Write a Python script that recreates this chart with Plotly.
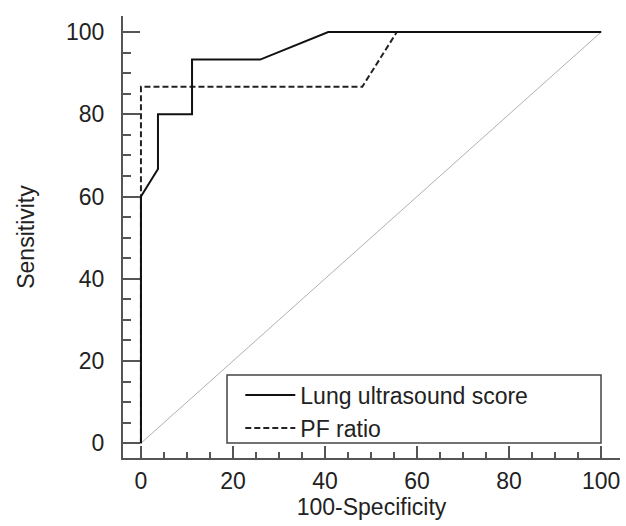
import plotly.graph_objects as go

# ROC curve data (100-Specificity, Sensitivity)
lus_x = [0, 0, 3.7, 3.7, 11.1, 11.1, 25.9, 40.7, 100]
lus_y = [0, 60, 66.7, 80, 80, 93.3, 93.3, 100, 100]
pf_x = [0, 0, 48.1, 55.6, 100]
pf_y = [0, 86.7, 86.7, 100, 100]
diag_x = [0, 100]
diag_y = [0, 100]
tick_vals = [0, 20, 40, 60, 80, 100]
tick_text = ["0", "20", "40", "60", "80", "100"]

FONT = "Liberation Sans, Arial, sans-serif"
AX = "#555555"
FS = 23

fig = go.Figure()
fig.add_trace(go.Scatter(x=diag_x, y=diag_y, mode="lines",
                         line=dict(color="#b0b0b0", width=1), showlegend=False,
                         hoverinfo="skip"))
fig.add_trace(go.Scatter(x=pf_x, y=pf_y, mode="lines", name="PF ratio", legendrank=2,
                         line=dict(color="#222222", width=2, dash="6px,3px")))
fig.add_trace(go.Scatter(x=lus_x, y=lus_y, mode="lines", name="Lung ultrasound score",
                         legendrank=1, line=dict(color="#111111", width=2)))

axis_common = dict(
    showgrid=False, zeroline=False, showline=True, linecolor=AX, linewidth=2,
    ticks="inside", tickcolor=AX, tickwidth=1.5,
    tickvals=tick_vals, ticktext=tick_text,
    tickfont=dict(family=FONT, size=FS, color="#222222"),
    mirror=False,
)

# legend box (paper coordinates of the plot area)
fig.add_shape(type="rect", xref="paper", yref="paper",
              x0=0.2093, x1=0.9618, y0=0.0339, y1=0.1878,
              line=dict(color="#444444", width=1.5), fillcolor="white", layer="below")

fig.update_layout(
    width=626, height=526,
    margin=dict(l=123, r=6, t=16, b=68),
    plot_bgcolor="white", paper_bgcolor="white",
    font=dict(family=FONT, size=FS, color="#222222"),
    xaxis=dict(**axis_common, range=[-3.9, 104.1], ticklen=12, ticklabelstandoff=1,
               minor=dict(dtick=5, ticks="inside", ticklen=6, tickcolor=AX, tickwidth=1.5),
               title=dict(text="100-Specificity", standoff=3,
                          font=dict(family=FONT, size=FS, color="#222222"))),
    yaxis=dict(**axis_common, range=[-3.6, 103.9], ticklen=17, ticklabelstandoff=12,
               minor=dict(dtick=5, ticks="inside", ticklen=8, tickcolor=AX, tickwidth=1.5),
               title=dict(text="Sensitivity", standoff=25,
                          font=dict(family=FONT, size=FS, color="#222222"))),
    legend=dict(x=0.236, y=0.191, xanchor="left", yanchor="top",
                bgcolor="rgba(0,0,0,0)", borderwidth=0,
                font=dict(family=FONT, size=23, color="#222222"),
                itemwidth=50, traceorder="normal", tracegroupgap=0),
    showlegend=True,
)

fig.write_html("out.html", config={"displayModeBar": False},
               post_script="document.body.style.margin='0px';")
